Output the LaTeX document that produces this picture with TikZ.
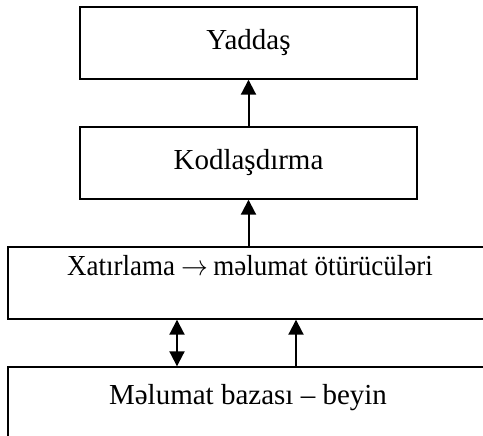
\documentclass[tikz,border=0pt]{standalone}
\usepackage{fontspec}
\usepackage{graphicx}
\setmainfont{Liberation Serif}
\usetikzlibrary{arrows.meta}
\begin{document}
\begin{tikzpicture}[x=0.5pt,y=-0.5pt,
  box/.style={draw,line width=0.7pt,inner sep=0pt},
  lbl/.style={font=\fontsize{14.5}{17}\selectfont,inner sep=0pt},
  arr/.style={line width=1pt,-{Triangle[width=7.5pt,length=7.5pt]}},
  darr/.style={line width=1pt,{Triangle[width=7.5pt,length=7.5pt]}-{Triangle[width=7.5pt,length=7.5pt]}}]
\useasboundingbox (0,0) rectangle (483,435);
\node[box,minimum width=168.5pt,minimum height=36pt] (yad) at (248.5,43) {};
\node[lbl] at (yad.center) {Yaddaş};
\node[box,minimum width=168.5pt,minimum height=36pt] (kod) at (248.5,163) {};
\node[lbl] at (kod.center) {Kodlaşdırma};
\node[box,minimum width=242pt,minimum height=36pt] (xat) at (250,283) {};
\node[lbl,anchor=base] (xatt) at (250,275) {\scalebox{0.93}[1]{Xatırlama $\rightarrow$\hspace{-1pt} məlumat ötürücüləri}};
\node[box,minimum width=242pt,minimum height=50pt] (mel) at (250,417) {};
\node[lbl,anchor=base] (melt) at (248,404) {Məlumat bazası – beyin};
\coordinate (c1) at (177,0);
\coordinate (c2) at (296,0);
\draw[arr] (kod.north) -- (yad.south);
\draw[arr] (xat.north -| kod.north) -- (kod.south);
\draw[darr] (mel.north -| c1) -- (xat.south -| c1);
\draw[arr] (mel.north -| c2) -- (xat.south -| c2);
\end{tikzpicture}
\end{document}
